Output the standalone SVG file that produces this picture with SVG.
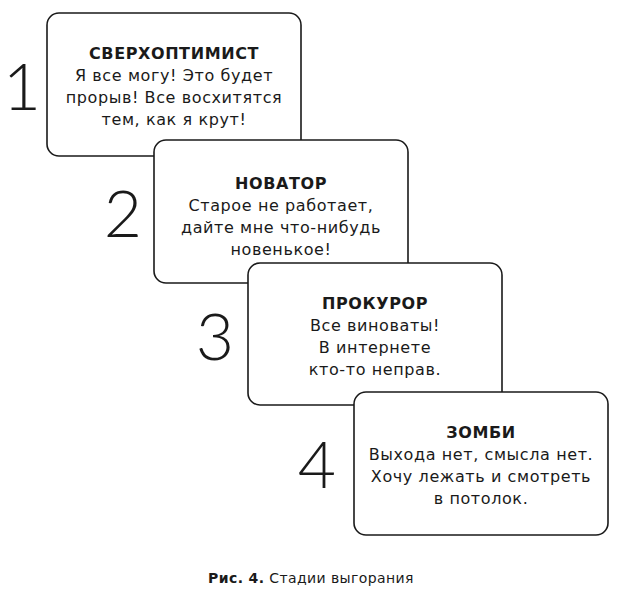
<svg xmlns="http://www.w3.org/2000/svg" width="623" height="590" viewBox="0 0 623 590">
<style>
.box{fill:#fff;stroke:#1a1a1a;stroke-width:1.6}
.t{font-family:"DejaVu Sans","Open Sans",sans-serif;font-size:16px;letter-spacing:0.6px;fill:#1a1a1a;text-anchor:middle}
.h{font-weight:700}
.num{font-family:"Lato","Open Sans",sans-serif;font-weight:300;font-size:66px;fill:#1a1a1a;text-anchor:middle}
.cap{font-family:"DejaVu Sans","Open Sans",sans-serif;font-size:14px;letter-spacing:0.4px;fill:#1a1a1a;text-anchor:middle}
</style>
<rect width="623" height="590" fill="#fff"/>
<g id="n1">
<text class="num" x="22" y="110">1</text>
<rect class="box" x="47" y="13" width="254" height="143" rx="12"/>
<text class="t h" x="174" y="59">СВЕРХОПТИМИСТ</text>
<text class="t" x="174" y="81">Я все могу! Это будет</text>
<text class="t" x="174" y="103">прорыв! Все восхитятся</text>
<text class="t" x="174" y="125">тем, как я крут!</text>
</g>
<g id="n2">
<text class="num" x="123" y="237">2</text>
<rect class="box" x="154" y="140" width="254" height="143" rx="12"/>
<text class="t h" x="281" y="189">НОВАТОР</text>
<text class="t" x="281" y="211">Старое не работает,</text>
<text class="t" x="281" y="233">дайте мне что-нибудь</text>
<text class="t" x="281" y="255">новенькое!</text>
</g>
<g id="n3">
<text class="num" x="215" y="360">3</text>
<rect class="box" x="248" y="263" width="254" height="142" rx="12"/>
<text class="t h" x="375" y="309">ПРОКУРОР</text>
<text class="t" x="375" y="331">Все виноваты!</text>
<text class="t" x="375" y="353">В интернете</text>
<text class="t" x="375" y="375">кто-то неправ.</text>
</g>
<g id="n4">
<text class="num" x="317" y="488">4</text>
<rect class="box" x="354" y="392" width="254" height="143" rx="12"/>
<text class="t h" x="481" y="438">ЗОМБИ</text>
<text class="t" x="481" y="460">Выхода нет, смысла нет.</text>
<text class="t" x="481" y="482">Хочу лежать и смотреть</text>
<text class="t" x="481" y="504">в потолок.</text>
</g>
<g id="connectors"></g>
<text class="cap" x="311" y="583"><tspan font-weight="700">Рис. 4.</tspan> Стадии выгорания</text>
</svg>
